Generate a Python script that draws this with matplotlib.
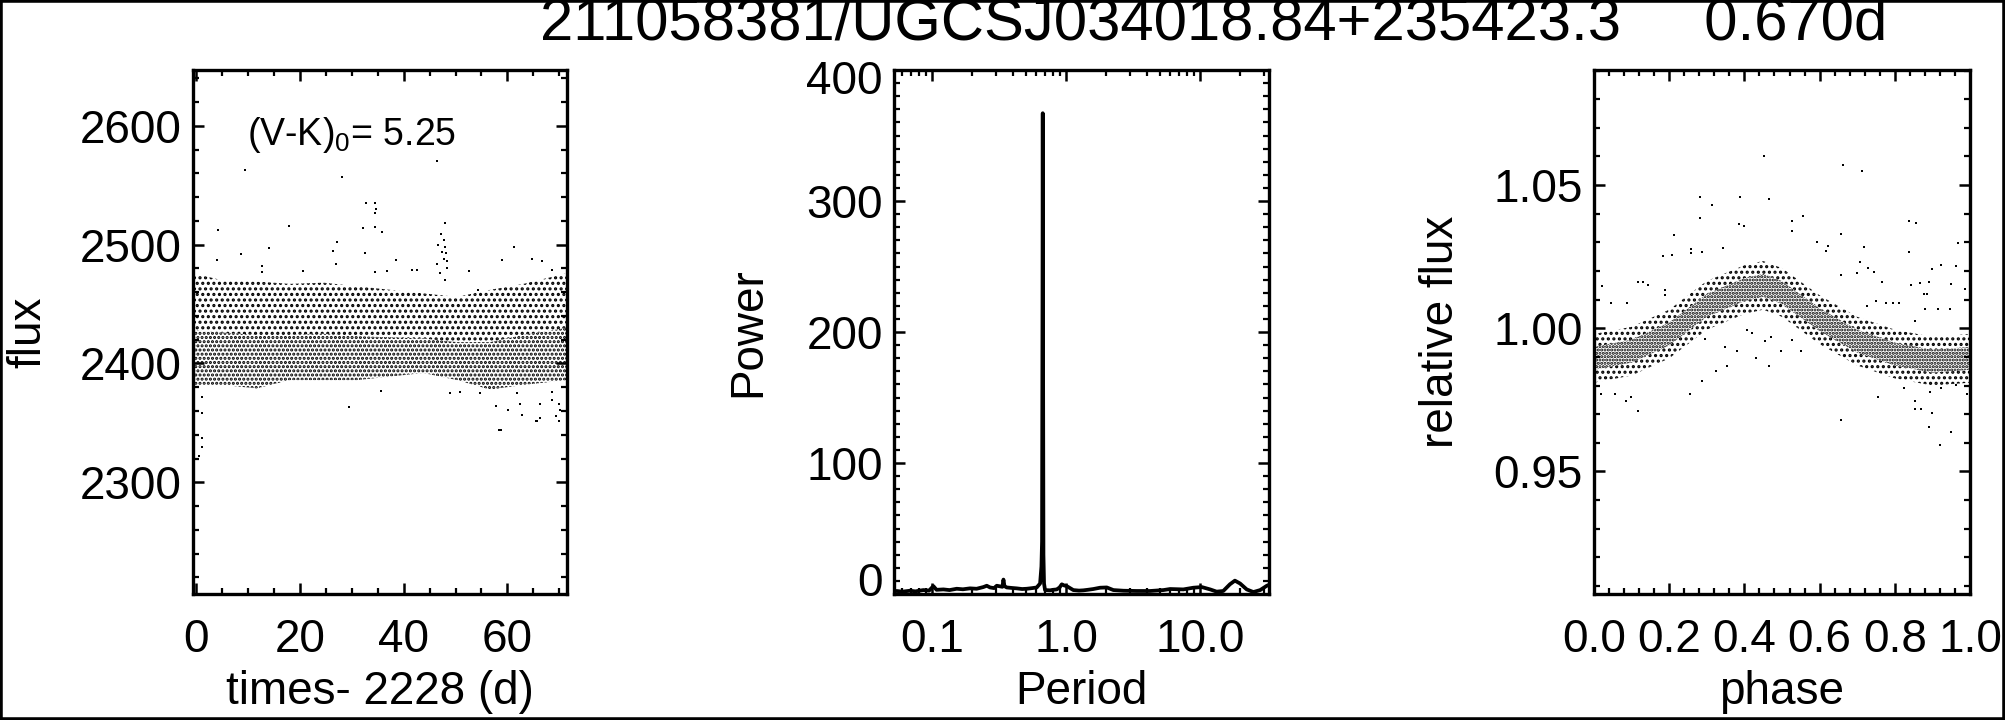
import numpy as np
import matplotlib.pyplot as plt
from matplotlib.ticker import MultipleLocator, FixedLocator, NullFormatter, LogLocator
from matplotlib.patches import Rectangle
import matplotlib.transforms as mtransforms

plt.rcParams['font.family'] = ['Liberation Sans', 'DejaVu Sans']
plt.rcParams['hatch.linewidth'] = 1.5

title_str = '211058381/UGCSJ034018.84+235423.3     0.670d'
vk_str = '(V-K)$_\\mathregular{0}$= 5.25'

# light curve: dense band (envelope) + single points
t_band = [-0.65, 5.0, 11.6, 18.0, 24.5, 31.0, 37.4, 43.8, 50.3, 56.7, 63.1, 71.5]
flux_hi = [2476, 2470, 2469, 2467, 2468, 2465, 2462, 2459, 2456, 2462, 2467, 2476]
flux_lo = [2382, 2382, 2379, 2386, 2386, 2386, 2389, 2392, 2386, 2378, 2382, 2386]
flux_core_hi = [2428, 2426, 2424, 2424, 2425, 2423, 2422, 2421, 2418, 2418, 2424, 2430]

t_pts = [9.4, 28.05, 46.5, 32.7, 34.5, 34.6, 34.5, 32.2, 34.5, 35.9, 4.2, 17.9, 48.0,
         8.7, 14.0, 27.1, 26.3, 3.9, 12.6, 12.7, 32.5, 26.9, 38.5, 41.6, 20.6, 34.5, 36.7,
         47.2, 47.7, 46.7, 48.0, 47.4, 48.2, 47.7, 48.3, 46.4, 48.4, 47.0, 48.0,
         58.9, 61.2, 64.7, 66.7, 68.6, 42.5, 52.5, 54.4,
         29.5, 35.6, 1.0, 1.0, 1.0, 1.0, 0.5, 57.8, 58.8, 60.2, 62.5, 62.8, 65.7, 66.3,
         66.3, 68.6, 68.6, 69.9, 69.9, 70.2, 49.0, 50.9, 54.8, 61.8, 65.5, 58.3, 69.3]
flux_pts = [2563, 2557, 2570, 2535, 2535, 2530, 2527, 2514, 2515, 2511, 2512, 2516, 2518,
            2492, 2497, 2502, 2495, 2487, 2482, 2477, 2493, 2484, 2487, 2479, 2478, 2477, 2478,
            2509, 2504, 2500, 2498, 2494, 2493, 2488, 2486, 2484, 2480, 2476, 2470,
            2487, 2498, 2488, 2486, 2479, 2479, 2478, 2462,
            2363, 2377, 2372, 2358, 2337, 2330, 2322, 2364, 2344, 2361, 2366, 2357, 2352, 2354,
            2366, 2376, 2369, 2366, 2352, 2361, 2375, 2376, 2375, 2375, 2352, 2344, 2356]

# periodogram
period = [0.052, 0.0545, 0.060, 0.0686, 0.075, 0.0861, 0.095, 0.1023, 0.108, 0.1215,
          0.135, 0.1528, 0.170, 0.192, 0.215, 0.2415, 0.256, 0.271, 0.290, 0.304,
          0.335, 0.341, 0.347, 0.361, 0.395, 0.428, 0.470, 0.509, 0.560, 0.604,
          0.640, 0.655, 0.662, 0.667, 0.670, 0.673, 0.678, 0.685, 0.697, 0.759,
          0.800, 0.852, 0.895, 0.929, 0.970, 1.012, 1.133, 1.25, 1.346, 1.45,
          1.599, 1.794, 2.013, 2.256, 2.68, 3.0, 3.37, 4.24, 5.33, 5.98,
          7.50, 8.91, 10.3, 11.9, 13.3, 14.9, 16.7, 18.2, 19.9, 22.3,
          25.0, 28.1, 31.5, 32.7]
power = [2.0, 2.3, 1.8, 2.5, 2.0, 3.0, 2.6, 6.0, 3.2, 3.5,
         3.0, 4.0, 3.6, 4.3, 4.0, 5.3, 6.3, 5.0, 4.5, 6.3,
         5.5, 11.0, 6.0, 5.0, 4.6, 4.3, 3.8, 4.0, 4.5, 5.0,
         8.0, 21, 40, 220, 367, 210, 30, 8, 3.0, 2.8,
         3.2, 3.5, 5.0, 7.4, 6.5, 6.0, 3.0, 2.6, 2.8, 3.2,
         3.8, 4.8, 5.0, 3.0, 2.5, 2.4, 2.3, 2.3, 3.0, 3.8,
         3.5, 4.8, 5.3, 3.5, 1.8, 2.3, 7.4, 10.2, 8.0, 3.5,
         1.5, 3.0, 6.3, 7.0]

# phased light curve
phase_band = [0.0, 0.1, 0.2, 0.3, 0.4, 0.45, 0.5, 0.6, 0.7, 0.8, 0.9, 1.0]
rel_hi = [0.9980, 1.0005, 1.0065, 1.0165, 1.0220, 1.0235, 1.0210, 1.0115, 1.0040, 0.9995, 0.9970, 0.9980]
rel_lo = [0.9810, 0.9835, 0.9895, 0.9995, 1.0050, 1.0065, 1.0040, 0.9945, 0.9870, 0.9825, 0.9800, 0.9810]
rel_core_hi = [0.9935, 0.9960, 1.0020, 1.0120, 1.0175, 1.0190, 1.0165, 1.0070, 0.9995, 0.9950, 0.9925, 0.9935]
rel_core_lo = [0.9855, 0.9880, 0.9940, 1.0040, 1.0095, 1.0110, 1.0085, 0.9990, 0.9915, 0.9870, 0.9845, 0.9855]

phase_pts = [0.453, 0.6625, 0.712, 0.281, 0.314, 0.387, 0.466, 0.281, 0.386, 0.399,
             0.214, 0.556, 0.527, 0.527, 0.656, 0.839, 0.857, 0.969, 0.839, 0.719,
             0.594, 0.622, 0.618, 0.183, 0.208, 0.257, 0.257, 0.288, 0.342, 0.962,
             0.899, 0.949, 0.924, 0.708, 0.728, 0.744, 0.766, 0.699, 0.656, 0.844,
             0.866, 0.891, 0.877, 0.886, 0.879, 0.915, 0.853, 0.946, 0.987, 0.777,
             0.795, 0.812, 0.750, 0.727, 0.117, 0.130, 0.143, 0.020, 0.009, 0.045,
             0.087, 0.190, 0.190,
             0.406, 0.419, 0.454, 0.4705, 0.430, 0.466, 0.498, 0.551, 0.527, 0.379,
             0.349, 0.354, 0.324, 0.295, 0.2875, 0.256, 0.116, 0.098, 0.085, 0.055,
             0.018, 0.656, 0.754, 0.853, 0.853, 0.871, 0.824, 0.890, 0.900, 0.920,
             0.949, 0.964, 0.991, 0.924, 0.893]
rel_pts = [1.0601, 1.0571, 1.0551, 1.0459, 1.0431, 1.0459, 1.0452, 1.0385, 1.0363, 1.0358,
           1.0325, 1.0392, 1.0373, 1.0339, 1.0328, 1.0373, 1.0367, 1.0297, 1.0265, 1.0285,
           1.0301, 1.0289, 1.0271, 1.0253, 1.0256, 1.0277, 1.0262, 1.0265, 1.0280, 1.0216,
           1.0207, 1.0156, 1.0222, 1.0232, 1.0210, 1.0195, 1.0160, 1.0192, 1.0186, 1.0150,
           1.0159, 1.0162, 1.0120, 1.0120, 1.0066, 1.0066, 1.0026, 1.0066, 1.0138, 1.0090,
           1.0090, 1.0087, 1.0096, 1.0078, 1.0160, 1.0162, 1.0150, 1.0147, 1.0099, 1.0087,
           1.0087, 1.0133, 1.0117,
           0.9994, 0.9982, 0.9956, 0.9970, 0.9897, 0.9868, 0.9920, 0.9922, 0.9960, 0.9921,
           0.9934, 0.9870, 0.9850, 0.9964, 0.9816, 0.9769, 0.9711, 0.9759, 0.9747, 0.9769,
           0.9772, 0.9681, 0.9759, 0.9747, 0.9717, 0.9717, 0.9790, 0.9655, 0.9703, 0.9591,
           0.9637, 0.9802, 0.9772, 0.9790, 0.9778]

fig = plt.figure(figsize=(20.05, 7.2), dpi=100)
W, H = 2005.0, 720.0


def make_axes(x0, x1, y0=70, y1=594):
    return fig.add_axes([x0 / W, 1 - y1 / H, (x1 - x0) / W, (y1 - y0) / H])


def style(ax):
    for s in ax.spines.values():
        s.set_linewidth(2.4)
    ax.tick_params(which='both', direction='in', top=True, right=True, labelsize=33)
    ax.tick_params(which='major', length=8, width=1.8)
    ax.tick_params(which='minor', length=4, width=1.6)
    ax.tick_params(axis='y', pad=8)
    ax.tick_params(axis='x', pad=17)


def band(ax, x, lo, hi, hatch):
    ax.fill_between(x, lo, hi, facecolor='none', edgecolor='k', linewidth=0, hatch=hatch)


def shift_label(lab, dy_px):
    lab.set_transform(lab.get_transform() +
                      mtransforms.ScaledTranslation(0, dy_px / 100, fig.dpi_scale_trans))


# panel 1: light curve (denser lower half, sparser upper half, no overlap)
ax1 = make_axes(193, 567)
style(ax1)
band(ax1, t_band, flux_core_hi, flux_hi, '...')
band(ax1, t_band, flux_lo, flux_core_hi, '....')
ax1.plot(t_pts, flux_pts, 's', color='k', ms=1.9, mew=0)
ax1.set_xlim(-0.65, 71.5)
ax1.set_ylim(2206, 2647)
ax1.xaxis.set_major_locator(FixedLocator([0, 20, 40, 60]))
ax1.xaxis.set_minor_locator(MultipleLocator(5))
ax1.yaxis.set_major_locator(FixedLocator([2300, 2400, 2500, 2600]))
ax1.yaxis.set_minor_locator(MultipleLocator(20))
ax1.text(9.8, 2592, vk_str, fontsize=27, va='center', ha='left')
ax1.set_xlabel('times- 2228 (d)', fontsize=33)
ax1.set_ylabel('flux', fontsize=33)
ax1.xaxis.set_label_coords(0.5, -0.145)
ax1.yaxis.set_label_coords(-0.441, 0.5)
ax1.xaxis.label.set_va('top')
ax1.yaxis.label.set_va('center')

# panel 2: periodogram
ax2 = make_axes(894, 1269)
style(ax2)
ax2.plot(period, power, color='k', lw=2.7)
ax2.set_xscale('log')
ax2.set_xlim(0.052, 32.7)
ax2.set_ylim(0, 400)
ax2.xaxis.set_major_locator(FixedLocator([0.1, 1.0, 10.0]))
ax2.set_xticklabels(['0.1', '1.0', '10.0'])
ax2.xaxis.set_minor_locator(LogLocator(base=10, subs=np.arange(2, 10)))
ax2.xaxis.set_minor_formatter(NullFormatter())
ax2.yaxis.set_major_locator(FixedLocator([0, 100, 200, 300, 400]))
ax2.yaxis.set_minor_locator(MultipleLocator(10))
fig.canvas.draw()
ylabs = ax2.get_yticklabels()
shift_label(ylabs[0], 15)
shift_label(ylabs[-1], -7)
ax2.set_xlabel('Period', fontsize=33)
ax2.set_ylabel('Power', fontsize=33)
ax2.xaxis.set_label_coords(0.5, -0.145)
ax2.yaxis.set_label_coords(-0.389, 0.5)
ax2.xaxis.label.set_va('top')
ax2.yaxis.label.set_va('center')

# panel 3: phased light curve (core denser, edges sparser, no overlap)
ax3 = make_axes(1594, 1970)
style(ax3)
band(ax3, phase_band, rel_lo, rel_core_lo, '...')
band(ax3, phase_band, rel_core_hi, rel_hi, '...')
band(ax3, phase_band, rel_core_lo, rel_core_hi, '.....')
ax3.plot(phase_pts, rel_pts, 's', color='k', ms=1.9, mew=0)
ax3.set_xlim(0, 1.0)
ax3.set_ylim(0.9072, 1.0902)
ax3.xaxis.set_major_locator(FixedLocator([0.0, 0.2, 0.4, 0.6, 0.8, 1.0]))
ax3.set_xticklabels(['0.0', '0.2', '0.4', '0.6', '0.8', '1.0'])
ax3.xaxis.set_minor_locator(MultipleLocator(0.04))
ax3.yaxis.set_major_locator(FixedLocator([0.95, 1.00, 1.05]))
ax3.set_yticklabels(['0.95', '1.00', '1.05'])
ax3.yaxis.set_minor_locator(MultipleLocator(0.01))
ax3.set_xlabel('phase', fontsize=33)
ax3.set_ylabel('relative flux', fontsize=33)
ax3.xaxis.set_label_coords(0.5, -0.145)
ax3.yaxis.set_label_coords(-0.407, 0.5)
ax3.xaxis.label.set_va('top')
ax3.yaxis.label.set_va('center')

fig.text(540 / W, 1 - 24 / H, title_str, fontsize=43, ha='left', va='center')

fig.patches.append(Rectangle((0, 0), 1, 1, transform=fig.transFigure, fill=False,
                             lw=4, ec='k', figure=fig))

fig.savefig('out.png', dpi=100)
